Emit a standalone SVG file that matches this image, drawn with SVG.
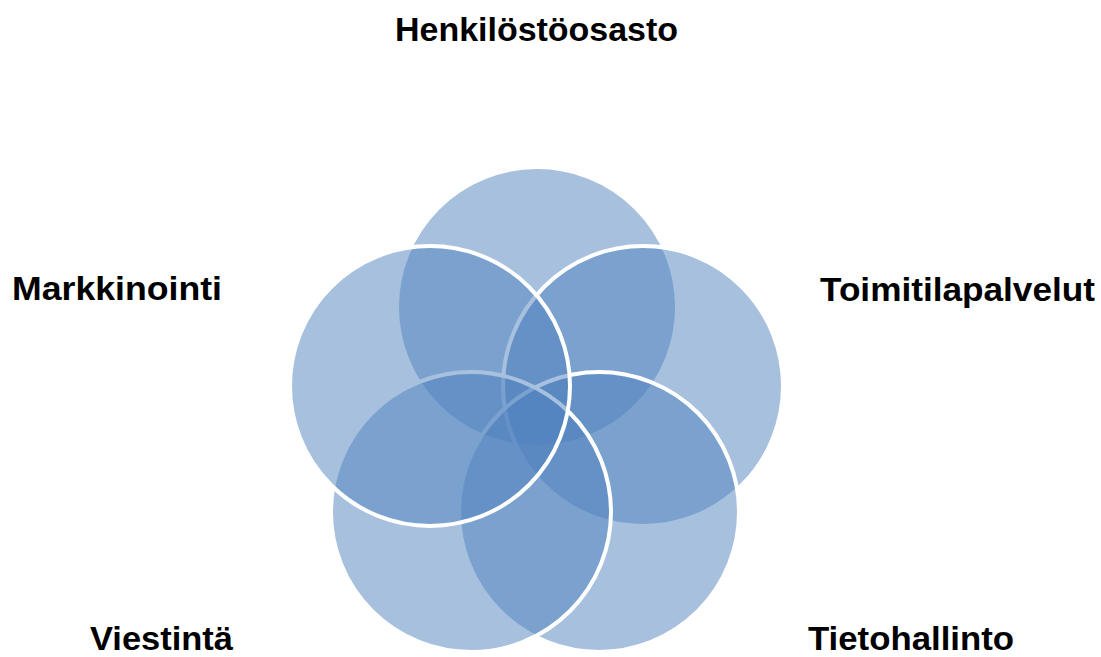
<svg xmlns="http://www.w3.org/2000/svg" width="1101" height="657" viewBox="0 0 1101 657">
  <style>
    .ring { fill: #4F81BD; fill-opacity: 0.5; stroke: #FFFFFF; stroke-width: 4; }
    .label { font-family: "Liberation Sans", Arial, sans-serif; font-weight: bold; font-size: 33px; fill: #000000; }
  </style>
  <rect width="1101" height="657" fill="#FFFFFF"/>
  <!-- five overlapping circles, drawn in stacking order -->
  <g id="node-henkilostoosasto">
    <circle class="ring" cx="537" cy="307" r="140"/>
  </g>
  <g id="node-toimitilapalvelut">
    <circle class="ring" cx="643" cy="386" r="140"/>
  </g>
  <g id="node-tietohallinto">
    <circle class="ring" cx="599" cy="512" r="140"/>
  </g>
  <g id="node-viestinta">
    <circle class="ring" cx="471" cy="512" r="140"/>
  </g>
  <g id="node-markkinointi">
    <circle class="ring" cx="430" cy="386" r="140"/>
  </g>
  <g id="connectors"/>
  <!-- labels -->
  <g id="labels">
    <text class="label" x="395" y="41" textLength="283" lengthAdjust="spacingAndGlyphs">Henkilöstöosasto</text>
    <text class="label" x="12" y="300" textLength="210" lengthAdjust="spacingAndGlyphs">Markkinointi</text>
    <text class="label" x="820" y="301" textLength="275" lengthAdjust="spacingAndGlyphs">Toimitilapalvelut</text>
    <text class="label" x="90" y="650" textLength="143" lengthAdjust="spacingAndGlyphs">Viestintä</text>
    <text class="label" x="808" y="650" textLength="206" lengthAdjust="spacingAndGlyphs">Tietohallinto</text>
  </g>
</svg>
